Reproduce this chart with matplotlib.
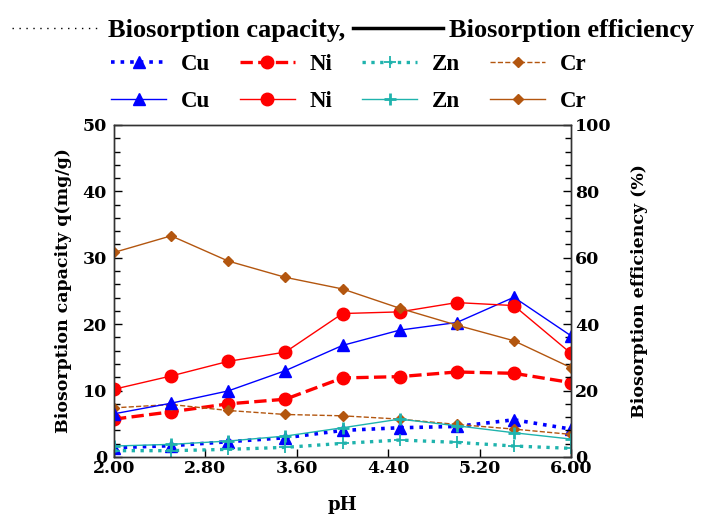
import matplotlib
matplotlib.use('Agg')
import matplotlib.pyplot as plt
from matplotlib.lines import Line2D

plt.rcParams['font.family'] = 'DejaVu Serif'
plt.rcParams['font.weight'] = 'bold'

# pH values
ph = [2.0, 2.5, 3.0, 3.5, 4.0, 4.5, 5.0, 5.5, 6.0]

# biosorption capacity q (mg/g), left axis
cap_cu = [1.4, 1.7, 2.3, 2.9, 4.0, 4.4, 4.6, 5.6, 4.2]
cap_ni = [5.7, 6.8, 8.0, 8.7, 11.9, 12.1, 12.8, 12.6, 11.2]
cap_zn = [0.95, 0.95, 1.15, 1.45, 2.05, 2.55, 2.2, 1.65, 1.3]
cap_cr = [7.4, 7.9, 7.0, 6.4, 6.2, 5.7, 4.9, 4.2, 3.4]

# biosorption efficiency (%), right axis
eff_cu = [13.0, 16.2, 19.9, 26.0, 33.6, 38.2, 40.5, 48.1, 36.5]
eff_ni = [20.4, 24.4, 28.8, 31.6, 43.2, 43.7, 46.5, 45.6, 31.2]
eff_zn = [3.3, 3.8, 4.8, 6.3, 8.8, 11.4, 9.4, 7.3, 5.4]
eff_cr = [61.6, 66.6, 59.0, 54.1, 50.6, 44.8, 39.7, 35.0, 26.9]

metals = ['Cu', 'Ni', 'Zn', 'Cr']

blue = '#0000ff'
red = '#ff0000'
teal = '#1fb3ad'
brown = '#b3560f'

fig = plt.figure(figsize=(7.02, 5.18), dpi=100)
ax = fig.add_axes([0.1624, 0.1178, 0.651, 0.641])
ax2 = ax.twinx()

h_cap = []
h_cap.append(ax.plot(ph, cap_cu, color=blue, ls=':', lw=2.6, marker='^', ms=8)[0])
h_cap.append(ax.plot(ph, cap_ni, color=red, ls='--', lw=2.4, marker='o', ms=9)[0])
h_cap.append(ax.plot(ph, cap_zn, color=teal, ls=':', lw=2.4, marker='+', ms=9, mew=1.3)[0])
h_cap.append(ax.plot(ph, cap_cr, color=brown, ls='--', lw=1.0, marker='D', ms=5)[0])

h_eff = []
h_eff.append(ax2.plot(ph, eff_cu, color=blue, lw=1.0, marker='^', ms=8)[0])
h_eff.append(ax2.plot(ph, eff_ni, color=red, lw=1.0, marker='o', ms=9)[0])
h_eff.append(ax2.plot(ph, eff_zn, color=teal, lw=1.0, marker='+', ms=9, mew=2)[0])
h_eff.append(ax2.plot(ph, eff_cr, color=brown, lw=1.0, marker='D', ms=5)[0])

ax.set_xlim(2.0, 6.0)
ax.set_ylim(0, 50)
ax2.set_ylim(0, 100)
ax.set_xticks([2.0, 2.8, 3.6, 4.4, 5.2, 6.0])
ax.set_xticklabels(['2.00', '2.80', '3.60', '4.40', '5.20', '6.00'])
ax.set_yticks(range(0, 51, 10))
ax.set_yticks(range(0, 51, 2), minor=True)
ax2.set_yticks(range(0, 101, 20))
ax2.set_yticks(range(0, 101, 4), minor=True)

for a in (ax, ax2):
    a.tick_params(direction='in', labelsize=12.5, length=6, width=1.0)
    a.tick_params(which='minor', direction='in', length=4, width=1.0)
    for s in a.spines.values():
        s.set_linewidth(1.0)
        s.set_color('#333333')
ax.tick_params(axis='x', pad=2)
ax.tick_params(axis='y', pad=5, left=True, right=False)
ax.tick_params(axis='y', which='minor', right=False)
ax2.tick_params(axis='y', pad=3)

ax.set_xlabel('pH', fontsize=13, fontweight='bold', labelpad=14)
ax.set_ylabel('Biosorption capacity q(mg/g)', fontsize=12.5, fontweight='bold', labelpad=8)
ax2.set_ylabel('Biosorption efficiency (%)', fontsize=12.5, fontweight='bold', labelpad=14)

# header legend: line style meaning
hdr = [Line2D([], [], color='black', ls=(0, (1, 4)), lw=1.0),
       Line2D([], [], color='black', ls='-', lw=2.5)]
fig.legend(hdr, ['Biosorption capacity,', 'Biosorption efficiency'],
           loc='upper center', bbox_to_anchor=(0.503, 1.01), ncol=2, frameon=False,
           handlelength=3.4, handletextpad=0.25, columnspacing=0.3,
           prop={'family': 'Liberation Serif', 'size': 19, 'weight': 'bold'})

# metal legend: row 1 capacity, row 2 efficiency
handles = []
labels = []
for hc, he, m in zip(h_cap, h_eff, metals):
    handles += [hc, he]
    labels += [m, m]
fig.legend(handles, labels, loc='upper center', bbox_to_anchor=(0.497, 0.935), ncol=4,
           frameon=False, handlelength=2.4, handletextpad=0.65, columnspacing=1.3,
           labelspacing=0.68, prop={'family': 'Liberation Serif', 'size': 16.5, 'weight': 'bold'})

fig.savefig('out.png', dpi=100)
